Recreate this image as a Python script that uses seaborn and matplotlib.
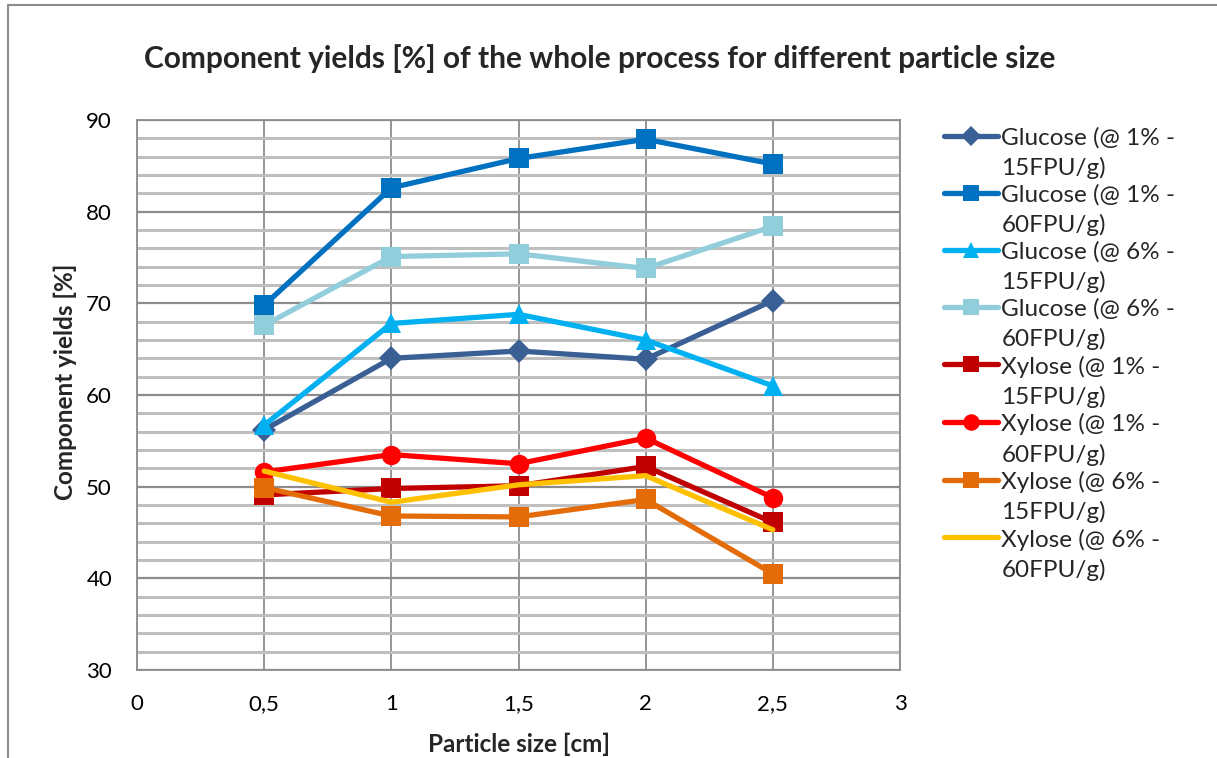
import matplotlib
matplotlib.use("Agg")
import matplotlib.pyplot as plt
import seaborn as sns
import pandas as pd
import numpy as np
from matplotlib.lines import Line2D
from matplotlib.ticker import MultipleLocator
from matplotlib.legend_handler import HandlerLine2D

sns.set_style("white")
plt.rcParams['font.family'] = ['Lato', 'DejaVu Sans']

particle_size = [0.5, 1.0, 1.5, 2.0, 2.5]
series_names = [
    "Glucose (@ 1% -\n15FPU/g)",
    "Glucose (@ 1% -\n60FPU/g)",
    "Glucose (@ 6% -\n15FPU/g)",
    "Glucose (@ 6% -\n60FPU/g)",
    "Xylose (@ 1% -\n15FPU/g)",
    "Xylose (@ 1% -\n60FPU/g)",
    "Xylose (@ 6% -\n15FPU/g)",
    "Xylose (@ 6% -\n60FPU/g)",
]
glucose_1_15 = [56.2, 64.0, 64.8, 63.9, 70.3]
glucose_1_60 = [69.8, 82.6, 85.8, 87.9, 85.2]
glucose_6_15 = [56.7, 67.8, 68.8, 66.0, 61.0]
glucose_6_60 = [67.6, 75.1, 75.4, 73.8, 78.4]
xylose_1_15 = [49.1, 49.8, 50.1, 52.2, 46.1]
xylose_1_60 = [51.6, 53.5, 52.5, 55.3, 48.8]
xylose_6_15 = [49.9, 46.8, 46.7, 48.6, 40.5]
xylose_6_60 = [51.7, 48.3, 50.2, 51.2, 45.3]
all_values = [glucose_1_15, glucose_1_60, glucose_6_15, glucose_6_60,
              xylose_1_15, xylose_1_60, xylose_6_15, xylose_6_60]

x_tick_labels = ["0", "0,5", "1", "1,5", "2", "2,5", "3"]

colors = ["#3A5F95", "#0070C0", "#00B0F0", "#92CDDC",
          "#C00000", "#FF0000", "#E36C09", "#FFC000"]
markers = ["D", "s", "^", "s", "s", "o", "s", None]
msizes = [12, 14, 14, 14, 14, 14, 14, 0]

fig = plt.figure(figsize=(12.17, 7.58), dpi=100)
ax = fig.add_axes([0.1126, 0.1161, 0.6269, 0.7256])

for name, vals, c, m, ms in zip(series_names, all_values, colors, markers, msizes):
    df = pd.DataFrame({"x": particle_size, "y": vals})
    kw = dict(marker=m, markersize=ms, markeredgewidth=0) if m else dict()
    sns.lineplot(data=df, x="x", y="y", ax=ax, color=c, linewidth=3.8,
                 label=name, **kw)

ax.set_xlim(0, 3)
ax.set_ylim(30, 90)
ax.yaxis.set_major_locator(MultipleLocator(10))
ax.yaxis.set_minor_locator(MultipleLocator(2))
ax.set_xticks(np.arange(0, 3.01, 0.5))
ax.set_xticklabels(x_tick_labels)
ax.grid(which="minor", axis="y", color="#BFBFBF", linewidth=2.2, zorder=0)
ax.grid(which="major", axis="y", color="#8C8C8C", linewidth=1.6, zorder=0)
ax.grid(which="major", axis="x", color="#8C8C8C", linewidth=1.3, zorder=0)
ax.set_axisbelow(True)
for s in ax.spines.values():
    s.set_color("#8C8C8C")
    s.set_linewidth(1.3)
ax.tick_params(axis="both", which="both", length=0, labelsize=16, colors="black")
ax.tick_params(axis="x", pad=17)
ax.tick_params(axis="y", pad=18)

ax.set_xlabel("Particle size [cm]", fontsize=17.5, fontweight="bold", labelpad=14)
ax.set_ylabel("Component yields [%]", fontsize=17.5, fontweight="bold")
ax.yaxis.set_label_coords(-0.079, 0.524)
fig.suptitle("Component yields [%] of the whole process for different particle size",
             x=0.493, y=0.942, fontsize=21.5, fontweight="bold")


class FirstLineHandler(HandlerLine2D):
    """Place the legend handle level with the first line of a two-line label."""
    def __init__(self, shift, **kw):
        super().__init__(**kw)
        self.shift = shift

    def create_artists(self, legend, orig_handle, xdescent, ydescent,
                       width, height, fontsize, trans):
        arts = super().create_artists(legend, orig_handle, xdescent, ydescent,
                                      width, height, fontsize, trans)
        for a in arts:
            a.set_ydata(np.asarray(a.get_ydata(), dtype=float) + self.shift)
        return arts


handles, labels = ax.get_legend_handles_labels()
ax.get_legend().remove()
leg = fig.legend(handles, labels, loc="upper left", bbox_to_anchor=(0.768, 0.845),
                 frameon=False, fontsize=17.5, handlelength=2.2, handletextpad=0.15,
                 labelspacing=0.22, borderaxespad=0, markerscale=0.85,
                 handler_map={Line2D: FirstLineHandler(shift=12.5)})
for t in leg.get_texts():
    t.set_linespacing(1.45)

# outer chart border (left and top visible in the reference)
fig.add_artist(Line2D([0.0066, 0.0066], [0.0, 0.9934], transform=fig.transFigure,
                      color="#8C8C8C", linewidth=1.5))
fig.add_artist(Line2D([0.0066, 1.0], [0.9934, 0.9934], transform=fig.transFigure,
                      color="#8C8C8C", linewidth=1.5))

fig.savefig("out.png", dpi=100)
